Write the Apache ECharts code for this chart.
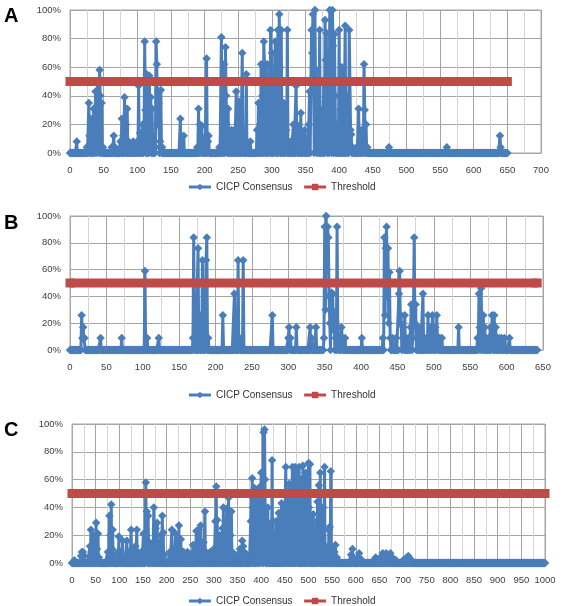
<!DOCTYPE html>
<html><head><meta charset="utf-8">
<script src="https://cdn.jsdelivr.net/npm/echarts@6/dist/echarts.min.js"></script>
<style>html,body{margin:0;padding:0;background:#fff}#c{width:563px;height:606px}</style>
</head><body><div id="c"></div>
<script>
// ---- Data ----
// x-axis extents (last residue position of each series)
var lastA = 650, lastB = 642, lastC = 1000;
var thresholdPct = 50;
var panelLabels = ['A', 'B', 'C'];
var seriesNames = ['CICP Consensus', 'Threshold'];

// Non-zero CICP consensus values [position, percent]; every other position reads 0%
var peaksA = [[10,8],
[25,4],[28,35],[29,12],[31,24],[33,8],[35,31],[37,20],[38,43],[40,30],[41,50],[42,20],[44,58],[45,40],[47,35],[49,4],
[62,4],[65,12],[67,4],
[75,8],[77,24],[79,12],[81,39],[83,20],[85,31],[87,8],[90,4],[94,8],[97,4],
[100,8],[102,47],[104,14],[106,12],[108,20],[110,8],[111,78],[112,30],[114,55],[116,20],[118,54],[119,12],[120,39],[122,31],[124,4],
[127,4],[128,78],[129,62],[130,20],[131,43],[132,35],[134,8],[135,44],[137,4],
[164,24],[169,12],
[189,4],[191,31],[193,20],[194,12],[196,19],[198,8],[200,4],[203,66],[205,8],[206,12],
[222,4],[225,81],[227,50],[229,62],[231,74],[232,40],[233,20],[235,31],[237,12],[240,16],[242,8],[244,16],[247,43],[249,20],[251,36],[253,8],[256,70],[258,16],[260,8],[262,55],[264,4],[268,8],
[278,16],[280,35],[282,20],[284,62],[286,40],[288,78],[289,62],[291,20],[293,62],[295,30],[296,12],[298,86],[300,70],[302,40],[304,16],[305,78],[307,50],[309,86],[311,97],[312,60],[314,86],[316,20],[318,35],[320,12],[321,16],[323,86],[325,4],[328,8],[332,20],[336,47],[337,16],[339,19],[341,8],[343,28],[345,12],[347,4],[349,16],[351,4],
[355,20],[356,43],[358,50],[359,86],[360,70],[361,97],[362,60],[364,100],[365,40],[366,58],[368,4],[369,16],[371,86],[373,30],[375,8],[377,50],[379,93],[380,65],[381,84],[383,60],[384,40],[386,100],[387,70],[388,50],[390,100],[391,75],[393,83],[394,40],[396,20],[398,17],[400,86],[402,30],[404,60],[406,20],[409,89],[411,40],[413,20],[415,86],[416,50],[417,16],[418,13],[420,4],
[426,4],[429,31],[431,8],[433,16],[435,4],[437,62],[438,30],[440,20],[442,4],
[474,4],[560,4],[639,12],[640,4]];

var peaksB = [[16,26],[17,9],[18,17],[19,9],[20,9],[42,9],[71,9],[103,59],[106,9],[122,9],
[169,9],[170,84],[172,9],[176,76],[178,9],[180,26],[182,67],[184,9],[187,67],[188,84],[190,9],
[210,26],[226,42],[231,67],[233,9],[238,67],[278,26],
[300,9],[301,17],[303,9],[311,17],[330,17],[332,9],[338,17],
[349,9],[350,92],[351,30],[352,100],[353,60],[354,92],[355,84],[356,40],[357,20],[359,43],[360,30],[361,42],[362,15],[363,26],[365,9],[367,92],[368,17],[370,9],[373,17],[375,9],[378,9],[401,9],
[430,9],[432,84],[433,26],[434,76],[435,92],[436,40],[437,76],[438,20],[439,58],[440,9],[443,9],[448,9],
[452,42],[453,59],[454,20],[455,26],[457,9],[458,17],[460,26],[462,9],[465,9],[468,17],[469,34],[471,9],[472,30],[473,84],[474,20],[475,34],[477,9],[479,17],[481,9],[485,42],[487,9],[490,9],[492,26],[494,9],[496,17],[498,26],[500,9],[502,17],[504,26],[505,9],[508,9],[511,9],
[534,17],[560,9],[562,42],[563,17],[565,46],[566,9],[568,26],[570,17],[572,9],[575,9],[578,17],[580,26],[581,9],[583,26],[585,17],[587,9],[590,9],[593,9],[597,9],[604,9]];

var peaksC = [[5,2],[19,5],[21,8],[23,8],[26,5],
[38,12],[40,24],[42,8],[46,20],[48,5],[51,29],[53,10],[55,21],[57,4],
[76,8],[79,34],[81,20],[83,42],[85,10],[86,24],[88,5],
[97,8],[99,19],[101,5],[103,8],[105,4],[107,16],
[112,4],[116,16],[118,5],[122,8],[125,24],[127,10],[130,5],[134,12],[137,24],[139,8],
[143,4],[147,8],[151,21],[153,10],[156,58],[157,20],[158,37],[159,12],[161,34],[163,15],[165,8],[168,12],[170,14],[173,40],[175,10],[177,25],[179,12],[180,29],[183,8],[186,15],[188,20],[191,34],[193,22],[195,6],
[207,8],[211,24],[213,6],[216,10],[219,21],[221,5],[224,15],[226,27],[228,10],[230,17],[232,4],[236,8],[240,3],[244,8],
[252,5],[256,13],[259,8],[263,23],[265,10],[268,24],[270,12],[272,27],[275,10],[278,15],[281,37],[283,8],[286,4],[292,8],[295,4],
[300,10],[303,30],[305,55],[307,31],[309,12],[312,20],[315,8],[318,25],[320,40],[322,15],[324,30],[327,39],[329,23],[331,47],[333,12],[335,20],[337,37],[339,8],
[345,4],[350,6],[355,10],[358,8],[360,16],[362,12],[364,8],[367,4],[370,6],[374,4],
[378,30],[379,48],[381,61],[382,40],[384,20],[386,54],[388,35],[390,45],[391,25],[393,52],[395,38],[396,20],[398,55],[399,45],[400,65],[401,30],[403,50],[405,94],[406,40],[407,96],[408,60],[410,25],[412,8],[414,40],[416,20],[418,10],[421,29],[423,74],[425,30],[427,8],[430,20],[432,30],[434,12],[437,36],[439,20],[441,10],[443,43],[445,25],[447,15],[449,39],[451,50],[452,69],[454,35],[456,20],[458,45],[459,57],[461,30],[463,10],[465,50],[466,69],[468,40],[470,25],[472,69],[474,45],[475,65],[477,30],[478,50],[480,69],[482,20],[484,60],[486,35],[488,70],[490,50],[492,30],[494,65],[496,45],[498,25],[500,72],[501,40],[503,71],[505,20],[507,10],[510,35],[512,15],[514,8],[517,30],[519,44],[520,10],[522,56],[523,30],[525,65],[527,15],[529,8],[531,40],[534,69],[536,12],[538,5],[541,10],[543,24],[545,26],[547,66],[549,10],[551,5],[555,8],[557,13],[560,4],
[590,6],[593,10],[595,4],[605,4],[607,7],[610,3],[638,2],[642,4],[645,2],[652,4],[657,7],[660,4],[664,7],[668,3],[673,7],[676,4],[680,3],[685,2],[700,2],[705,3],[708,4],[711,5],[714,3],[718,2]];

// axis tick settings
var xMaxA = 700, xMaxB = 650, xMaxC = 1000, xStep = 50;
var yMax = 100, yStep = 20;

// ---- build full per-position series ----
function fullSeries(last, peaks) {
  var m = {}; peaks.forEach(function (p) { m[p[0]] = p[1]; });
  var out = [];
  for (var x = 0; x <= last; x++) out.push([x, m[x] !== undefined ? m[x] : 0]);
  return out;
}
function thresholdSeries(last) { return [[0, thresholdPct], [last, thresholdPct]]; }

var BLUE = '#4A7EBB', RED = '#BE4B48';
var FONT = 'Liberation Sans';
var grids = [
  {left: 70, right: 22, top: 10, height: 143},
  {left: 70, right: 20, top: 216, height: 134},
  {left: 72, right: 18, top: 424, height: 139}
];
var xMaxes = [xMaxA, xMaxB, xMaxC];
var lasts = [lastA, lastB, lastC];
var peaks = [peaksA, peaksB, peaksC];
var legendTops = [177, 385, 591];
var letterTops = [6, 213, 420];

var option = {animation: false, grid: [], xAxis: [], yAxis: [], series: [], legend: [], graphic: []};
for (var i = 0; i < 3; i++) {
  option.grid.push(Object.assign({show: true, borderColor: '#a8a8a8', borderWidth: 1, containLabel: false}, grids[i]));
  option.xAxis.push({
    type: 'value', gridIndex: i, min: 0, max: xMaxes[i], interval: xStep,
    axisLine: {show: true, onZero: false, lineStyle: {color: '#a8a8a8'}},
    axisTick: {show: false},
    minorTick: {show: false, splitNumber: 2},
    minorSplitLine: {show: true, lineStyle: {color: '#d4d4d4', width: 1}},
    splitLine: {show: true, lineStyle: {color: '#a4a4a4', width: 1}},
    axisLabel: {color: '#404040', fontFamily: FONT, fontSize: 9.5, margin: 12,
      formatter: function (v) { return String(v); }}
  });
  option.yAxis.push({
    type: 'value', gridIndex: i, min: 0, max: yMax, interval: yStep,
    axisLine: {show: true, lineStyle: {color: '#a8a8a8'}},
    axisTick: {show: false},
    splitLine: {show: true, lineStyle: {color: '#a4a4a4', width: 1}},
    axisLabel: {color: '#404040', fontFamily: FONT, fontSize: 9.5, margin: 9, formatter: '{value}%'}
  });
  option.series.push({
    name: seriesNames[0], type: 'line', xAxisIndex: i, yAxisIndex: i,
    data: fullSeries(lasts[i], peaks[i]),
    symbol: 'diamond', symbolSize: 8.5, showSymbol: true, showAllSymbol: true, clip: false,
    lineStyle: {color: BLUE, width: 3}, itemStyle: {color: BLUE}, z: 2
  });
  option.series.push({
    name: seriesNames[1], type: 'line', xAxisIndex: i, yAxisIndex: i,
    data: thresholdSeries(lasts[i]),
    symbol: 'rect', symbolSize: 9, showSymbol: true, clip: false,
    lineStyle: {color: RED, width: 9}, itemStyle: {color: RED}, z: 3
  });
  option.legend.push({
    top: legendTops[i], left: 'center', itemWidth: 22, itemHeight: 8, itemGap: 10,
    textStyle: {color: '#333', fontFamily: FONT, fontSize: 10},
    data: [
      {name: seriesNames[0], lineStyle: {width: 3}},
      {name: seriesNames[1], lineStyle: {width: 3}, itemStyle: {color: RED}}
    ]
  });
  option.graphic.push({
    type: 'text', left: 4, top: letterTops[i],
    style: {text: panelLabels[i], fill: '#000', font: 'bold 20px "Liberation Sans", Arial'}
  });
}
var chart = echarts.init(document.getElementById('c'), null, {renderer: 'canvas'});
chart.setOption(option);
</script>
</body></html>
